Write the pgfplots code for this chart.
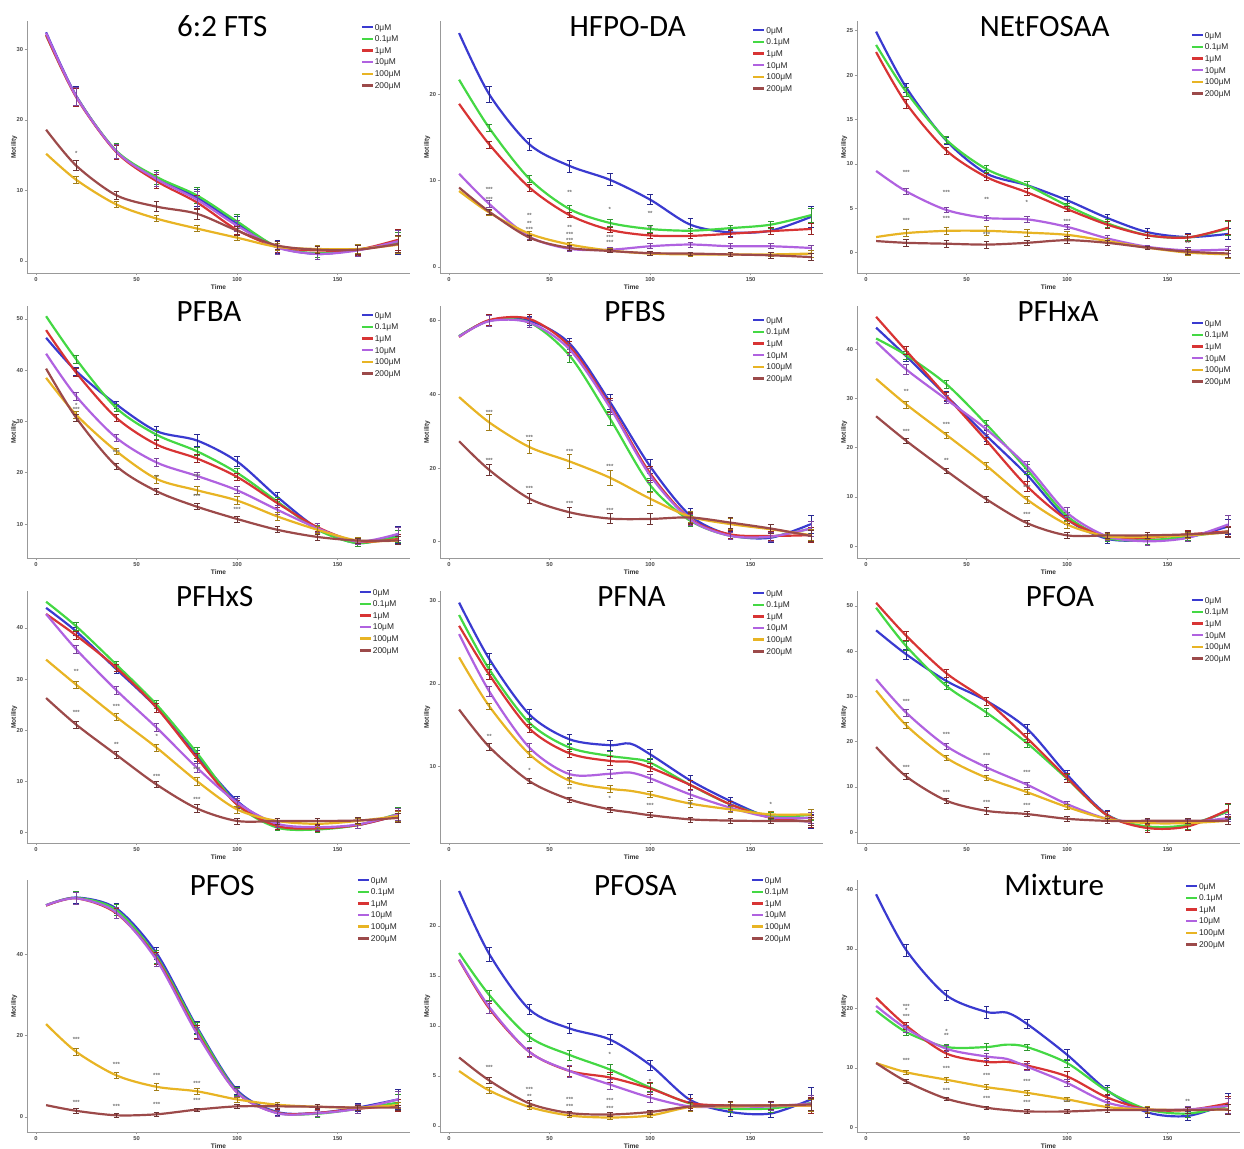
\documentclass[border=0pt]{standalone}
\usepackage{pgfplots}
\pgfplotsset{compat=1.18}
\usepackage{pgfplotstable}
\usepackage{fontspec}
\setmainfont{Liberation Sans}
\newfontfamily\titlefont{Carlito}
\definecolor{c0}{HTML}{3A3AD0}
\definecolor{c1}{HTML}{44D844}
\definecolor{c2}{HTML}{D83434}
\definecolor{c3}{HTML}{B062E0}
\definecolor{c4}{HTML}{E8B424}
\definecolor{c5}{HTML}{9C4A4A}

\pgfplotsset{
  panel/.style={
    scale only axis, width=191.5pt, height=126pt,
    axis x line*=bottom, axis y line*=left,
    axis line style={black!40, line width=0.45pt},
    xmin=-4.5, xmax=186, xtick={0,50,100,150},
    tick align=outside, major tick length=1.2pt,
    every tick/.style={black!40, line width=0.3pt},
    tick label style={font=\fontsize{2.9}{3}\selectfont\bfseries, text=black!70, inner sep=0.6pt},
    /pgf/number format/assume math mode=true,
    xlabel={Time}, ylabel={Motility}, ylabel shift=-2pt,
    label style={font=\fontsize{3.3}{3.6}\selectfont\bfseries, text=black!80, inner sep=0.8pt},
    legend style={draw=none, fill=none, font=\fontsize{4.2}{4.6}\selectfont, text=black!85,
      cells={anchor=west}, row sep=2.1pt, inner sep=0pt,
      nodes={inner sep=0.4pt, text depth=0pt},
      /tikz/every even column/.append style={column sep=2pt}},
    legend image code/.code={\draw[#1, line width=1.2pt] (0pt,0pt) -- (5.5pt,0pt);},
    clip=false,
  },
  errskip/.style={skip coords between index={0}{1}},
}
\tikzset{
  ttl/.style={font=\titlefont\fontsize{15.5}{15.5}\selectfont, anchor=base, inner sep=0pt, yshift=-7.8pt},
  sig/.style={font=\fontsize{3}{3}\selectfont\bfseries, text=black!55, inner sep=0pt},
}
\newcommand{\st}[3]{\node[sig] at (axis cs:#1,#2) {#3};}
\newcommand{\ser}[4]{%
  \addplot[#2, line width=1.1pt, smooth, tension=0.5] table[x=t,y=#3]{#1};
  \addplot[forget plot, only marks, mark=*, mark size=0pt, mark options={draw=none, fill=none}, errskip,
     error bars/.cd, y dir=both, y explicit,
     error bar style={line width=0.35pt, draw=#2!70!black},
     error mark options={rotate=90, mark size=1.4pt, line width=0.35pt, draw=#2!70!black}]
     table[x=t,y=#3,y error=#4]{#1};
}
\newcommand{\panel}[7]{%
\begin{axis}[panel, at={(#1)}, anchor=south west, #4, legend style={at={(rel axis cs:#5)}, anchor=north west}]
\ser{#6}{c0}{a}{ea}\ser{#6}{c1}{b}{eb}\ser{#6}{c2}{c}{ec}\ser{#6}{c3}{d}{ed}\ser{#6}{c4}{e}{ee}\ser{#6}{c5}{f}{ef}
\legend{0μM,0.1μM,1μM,10μM,100μM,200μM}
\node[ttl] at (rel axis cs:#3,1) {#2};
#7
\end{axis}}

% 6:2 FTS
\pgfplotstableread{
t a b c d e f ea eb ec ed ee ef
5 32.4 32.0 32.0 32.3 15.2 18.6 0 0 0 0 0 0
20 23.4 23.3 23.2 23.3 11.5 13.5 1.3 1.3 1.3 1.3 0.5 0.7
40 15.5 15.6 15.4 15.5 8.0 9.3 1.0 1.0 1.0 1.0 0.4 0.6
60 11.8 11.9 11.3 11.6 6.0 7.7 1.0 1.0 1.0 1.0 0.4 0.7
80 9.0 9.3 8.3 8.7 4.6 6.7 1.2 1.2 1.0 1.2 0.4 0.8
100 5.3 5.6 4.4 5.0 3.3 4.3 1.0 1.0 0.6 0.8 0.4 0.6
120 2.0 2.0 2.0 1.9 2.0 2.2 0.9 0.8 0.8 0.9 0.5 0.6
140 1.0 1.1 1.5 1.0 1.7 1.6 0.7 0.6 0.6 0.8 0.5 0.5
160 1.6 1.6 1.6 1.5 1.7 1.6 0.8 0.7 0.8 0.8 0.6 0.6
180 2.5 2.6 3.0 2.8 2.3 2.4 1.5 1.5 1.5 1.6 1.2 1.2
}\tA
% HFPO-DA
\pgfplotstableread{
t a b c d e f ea eb ec ed ee ef
5 27.1 21.7 18.9 10.8 8.8 9.2 0 0 0 0 0 0
20 20.0 16.1 14.2 7.3 6.3 6.4 0.9 0.4 0.4 0.4 0.3 0.3
40 14.2 10.2 9.2 3.5 3.85 3.4 0.7 0.4 0.4 0.3 0.3 0.3
60 11.7 6.7 6.0 2.1 2.6 2.2 0.7 0.4 0.3 0.3 0.3 0.3
80 10.1 5.1 4.3 2.0 1.9 1.85 0.7 0.4 0.3 0.3 0.2 0.2
100 7.8 4.4 3.65 2.4 1.55 1.6 0.6 0.4 0.3 0.3 0.2 0.2
120 4.9 4.2 3.6 2.6 1.45 1.55 0.7 0.3 0.3 0.3 0.2 0.2
140 4.0 4.5 3.85 2.4 1.45 1.45 0.4 0.3 0.4 0.3 0.2 0.2
160 4.2 4.9 4.15 2.4 1.45 1.35 0.4 0.4 0.4 0.3 0.2 0.3
180 5.8 6.0 4.4 2.2 1.55 1.15 1.2 0.8 0.6 0.3 0.4 0.4
}\tB
% NEtFOSAA
\pgfplotstableread{
t a b c d e f ea eb ec ed ee ef
5 24.9 23.4 22.6 9.2 1.75 1.3 0 0 0 0 0 0
20 18.6 18.1 16.8 6.9 2.2 1.1 0.5 0.5 0.5 0.3 0.4 0.4
40 12.6 12.7 11.5 4.8 2.45 1.0 0.4 0.4 0.4 0.3 0.4 0.4
60 8.9 9.4 8.5 3.9 2.45 0.9 0.4 0.4 0.4 0.3 0.5 0.4
80 7.6 7.6 6.8 3.75 2.25 1.1 0.4 0.4 0.4 0.3 0.4 0.3
100 5.9 5.3 4.9 2.9 2.0 1.4 0.4 0.3 0.3 0.3 0.4 0.4
120 3.9 3.3 3.15 1.6 1.3 1.1 0.4 0.4 0.4 0.3 0.3 0.3
140 2.3 1.95 1.95 0.65 0.55 0.55 0.4 0.3 0.3 0.2 0.2 0.2
160 1.75 1.7 1.7 0.25 0.0 0.1 0.4 0.3 0.4 0.3 0.3 0.3
180 2.1 2.7 2.8 0.35 -0.2 -0.1 0.6 0.8 0.8 0.4 0.5 0.4
}\tC
% PFBA
\pgfplotstableread{
t a b c d e f ea eb ec ed ee ef
5 46.3 50.5 47.8 43.2 38.5 40.3 0 0 0 0 0 0
20 39.8 42.1 39.5 34.9 31.3 30.7 0.8 0.8 0.8 0.8 0.7 0.7
40 33.3 32.6 30.7 26.8 24.2 21.3 0.7 0.7 0.7 0.7 0.6 0.6
60 28.1 27.4 25.5 22.0 18.8 16.4 0.9 0.8 0.8 0.8 0.8 0.6
80 26.3 24.2 22.8 19.4 16.6 13.4 1.1 0.8 0.8 0.7 0.8 0.6
100 22.2 20.0 19.2 16.6 14.6 11.0 1.0 0.8 0.7 0.7 0.8 0.6
120 15.3 14.4 14.1 12.8 11.5 8.9 0.9 0.8 0.8 0.8 0.7 0.6
140 9.2 8.9 9.4 9.2 8.9 7.5 1.0 0.8 0.8 0.9 0.7 0.6
160 6.3 6.3 6.6 6.6 6.8 6.8 0.7 0.6 0.6 0.6 0.6 0.5
180 7.9 7.6 7.1 8.1 6.8 6.8 1.7 1.2 1.0 1.2 0.8 0.8
}\tD
% PFBS
\pgfplotstableread{
t a b c d e f ea eb ec ed ee ef
5 55.8 55.8 55.6 55.7 39.3 27.3 0 0 0 0 0 0
20 60.0 60.0 60.2 59.9 32.4 19.5 1.5 1.5 1.5 1.5 2.2 1.6
40 60.0 59.5 60.5 59.5 25.7 11.7 1.3 1.3 1.3 1.3 1.8 1.4
60 53.8 50.5 53.0 52.2 21.8 8.0 1.5 1.8 1.5 1.5 1.8 1.4
80 38.0 33.5 37.0 36.5 17.4 6.3 2.0 2.0 2.0 2.0 2.0 1.3
100 20.5 15.4 18.6 18.0 11.7 6.2 1.8 1.8 1.8 1.8 1.8 1.4
120 7.1 5.7 6.2 6.0 6.8 6.6 2.0 1.5 1.5 1.5 1.5 1.5
140 1.8 1.6 2.0 1.6 4.8 5.2 1.0 1.0 1.0 1.0 1.5 1.5
160 1.1 1.4 1.6 1.4 3.4 3.6 1.2 1.2 1.2 1.2 1.2 1.2
180 4.8 3.6 1.8 3.6 1.8 1.6 2.5 2.0 2.0 2.0 1.5 1.5
}\tE
% PFHxA
\pgfplotstableread{
t a b c d e f ea eb ec ed ee ef
5 44.4 42.2 46.6 41.5 34.0 26.4 0 0 0 0 0 0
20 38.6 38.8 39.7 35.9 28.8 21.4 1.0 0.8 0.8 1.0 0.7 0.6
40 30.5 32.9 30.5 29.8 22.6 15.3 1.0 0.8 0.8 0.8 0.6 0.6
60 22.4 24.7 21.4 23.7 16.3 9.5 1.2 0.9 0.8 0.9 0.7 0.6
80 14.5 15.6 12.2 16.3 9.5 4.7 1.3 1.0 1.0 1.0 0.7 0.6
100 5.5 6.1 5.4 6.8 4.4 2.2 1.0 0.8 0.8 1.0 0.7 0.6
120 1.5 1.7 1.9 2.0 2.0 2.2 0.9 0.8 0.8 0.8 0.6 0.6
140 1.2 1.2 1.7 1.0 1.9 2.2 0.9 0.8 0.8 0.8 0.6 0.6
160 1.8 2.0 2.4 1.7 2.2 2.4 0.9 0.8 0.8 0.8 0.6 0.6
180 4.0 3.0 3.0 4.4 2.8 2.8 1.5 1.0 1.0 1.8 1.0 1.0
}\tF
% PFHxS
\pgfplotstableread{
t a b c d e f ea eb ec ed ee ef
5 43.9 45.1 42.7 42.7 33.8 26.3 0 0 0 0 0 0
20 39.3 40.3 38.5 35.8 28.9 21.1 0.8 0.8 0.8 0.8 0.7 0.7
40 31.9 32.8 32.2 27.8 22.6 15.2 0.7 0.7 0.7 0.7 0.7 0.6
60 24.4 25.0 24.4 20.5 16.6 9.4 0.8 0.8 0.8 0.8 0.7 0.6
80 15.0 15.6 14.6 12.7 10.1 4.75 1.0 1.0 1.0 0.9 0.8 0.7
100 6.2 5.5 5.5 5.9 4.55 2.3 1.0 0.8 0.8 0.9 0.7 0.6
120 1.3 1.0 1.3 1.75 2.3 2.3 0.7 0.6 0.6 0.7 0.6 0.6
140 0.85 0.65 0.85 1.1 1.75 2.3 0.6 0.6 0.6 0.6 0.6 0.6
160 1.5 1.5 1.5 1.6 2.3 2.4 0.7 0.7 0.7 0.7 0.6 0.6
180 3.4 3.7 3.4 3.6 3.25 2.9 1.3 1.2 1.0 1.1 1.0 0.8
}\tG
% PFNA
\pgfplotstableread{
t a b c d e f ea eb ec ed ee ef
5 29.8 28.3 27.0 26.0 23.2 16.9 0 0 0 0 0 0
20 23.0 21.75 21.1 19.1 17.3 12.4 0.7 0.6 0.6 0.6 0.4 0.4
40 16.3 15.3 14.6 12.3 11.5 8.25 0.6 0.5 0.5 0.5 0.4 0.3
60 13.3 12.3 11.6 9.1 8.3 6.05 0.6 0.5 0.5 0.5 0.4 0.3
80 12.6 11.3 10.7 9.15 7.35 4.85 0.6 0.5 0.5 0.5 0.4 0.3
90 12.8 11.0 10.6 9.3 7.1 4.5 0 0 0 0 0 0
100 11.5 10.5 9.9 8.6 6.65 4.15 0.6 0.5 0.5 0.5 0.4 0.3
120 8.35 7.8 7.8 6.65 5.55 3.65 0.6 0.5 0.5 0.5 0.4 0.3
140 5.85 5.45 5.45 5.05 4.85 3.5 0.5 0.4 0.4 0.4 0.4 0.3
160 3.85 4.05 3.85 3.9 4.25 3.45 0.4 0.4 0.4 0.4 0.4 0.3
180 3.4 4.2 3.4 3.85 4.25 3.45 0.8 0.7 0.7 0.7 0.6 0.5
}\tH
% PFOA
\pgfplotstableread{
t a b c d e f ea eb ec ed ee ef
5 44.6 49.6 50.7 33.8 31.3 18.8 0 0 0 0 0 0
20 39.3 41.1 43.4 26.4 23.6 12.3 1.0 1.0 1.0 0.7 0.6 0.7
40 33.4 32.3 35.1 19.0 16.4 6.95 0.9 0.8 0.9 0.6 0.6 0.6
60 29.0 26.4 29.0 14.3 12.0 4.7 0.9 0.9 0.9 0.6 0.6 0.7
80 22.9 19.7 20.8 10.5 8.85 4.0 1.0 0.9 1.0 0.6 0.6 0.6
100 12.7 11.8 12.0 6.2 5.55 2.95 1.0 0.9 1.0 0.6 0.6 0.6
120 3.85 3.7 3.7 2.95 2.9 2.5 1.0 0.9 0.9 0.6 0.6 0.6
140 1.05 1.25 0.9 2.2 2.0 2.5 1.0 0.9 0.9 0.6 0.6 0.6
160 1.5 1.6 1.25 2.2 2.0 2.5 1.0 0.9 0.9 0.6 0.6 0.6
180 4.6 4.6 4.95 3.1 2.5 2.5 1.8 1.5 1.5 0.8 0.8 0.8
}\tI
% PFOS
\pgfplotstableread{
t a b c d e f ea eb ec ed ee ef
5 52.0 52.0 51.9 52.0 22.8 2.9 0 0 0 0 0 0
20 53.9 53.8 53.7 53.7 16.0 1.5 1.5 1.5 1.5 1.5 0.8 0.5
40 51.2 50.8 50.0 50.2 10.2 0.4 1.3 1.3 1.3 1.3 0.8 0.4
60 40.2 39.3 38.9 38.5 7.4 0.65 1.5 1.5 1.5 1.5 0.8 0.4
80 22.1 21.7 20.9 20.5 6.3 1.8 1.5 1.5 1.5 1.5 0.8 0.4
100 6.6 6.2 6.0 6.0 4.3 2.6 1.0 1.0 1.0 1.0 0.6 0.5
120 1.2 1.0 1.0 0.9 3.0 2.6 0.8 0.8 0.8 0.8 0.5 0.5
140 1.0 0.8 1.0 0.9 2.5 2.5 0.8 0.8 0.8 0.8 0.5 0.5
160 2.3 2.0 2.0 2.0 2.3 2.3 1.0 1.0 1.0 1.0 0.6 0.6
180 4.3 3.5 2.8 4.3 2.9 2.3 2.5 2.0 1.5 2.0 0.8 0.6
}\tJ
% PFOSA
\pgfplotstableread{
t a b c d e f ea eb ec ed ee ef
5 23.5 17.3 16.6 16.65 5.5 6.85 0 0 0 0 0 0
20 17.2 13.1 11.75 11.9 3.55 4.55 0.7 0.5 0.5 0.6 0.3 0.3
40 11.65 8.9 7.4 7.4 1.9 2.25 0.5 0.4 0.4 0.5 0.2 0.3
60 9.75 7.1 5.5 5.5 1.05 1.3 0.5 0.5 0.5 0.6 0.2 0.2
80 8.65 5.65 4.85 4.15 0.85 1.15 0.5 0.5 0.5 0.5 0.2 0.2
100 6.1 3.85 3.75 2.85 1.05 1.4 0.5 0.4 0.6 0.5 0.2 0.2
120 2.6 2.25 2.3 1.95 1.9 1.95 0.6 0.5 0.5 0.5 0.4 0.4
140 1.4 1.75 2.05 1.95 1.95 2.05 0.4 0.4 0.4 0.4 0.4 0.4
160 1.25 1.75 2.05 1.95 2.05 2.05 0.4 0.4 0.4 0.4 0.4 0.4
180 2.65 2.3 2.05 2.25 2.05 2.15 1.2 0.8 0.8 0.8 0.6 0.6
}\tK
% Mixture
\pgfplotstableread{
t a b c d e f ea eb ec ed ee ef
5 39.2 19.6 21.8 20.4 10.8 10.8 0 0 0 0 0 0
20 29.8 16.0 17.1 16.6 9.25 7.7 1.0 0.6 0.6 0.6 0.4 0.3
40 22.2 13.5 12.4 13.2 8.0 4.8 0.8 0.5 0.6 0.5 0.4 0.3
60 19.4 13.5 11.0 11.9 6.75 3.3 1.0 0.6 0.6 0.6 0.4 0.3
70 19.3 13.9 11.0 11.5 6.3 2.9 0 0 0 0 0 0
80 17.4 13.5 10.4 10.2 5.8 2.65 0.8 0.5 0.7 0.6 0.4 0.3
100 12.2 10.8 8.55 7.45 4.7 2.65 0.9 0.7 0.8 0.6 0.3 0.3
120 6.2 6.1 5.0 4.15 3.4 2.9 0.8 0.6 0.6 0.5 0.4 0.4
140 2.5 3.0 3.0 3.0 3.0 2.9 0.8 0.6 0.6 0.6 0.5 0.5
160 1.9 2.3 2.9 3.0 2.9 2.9 0.8 0.6 0.6 0.6 0.5 0.5
180 4.0 3.6 4.0 3.6 3.0 3.0 1.7 1.2 1.2 1.2 0.8 0.8
}\tL

\begin{document}
\begin{tikzpicture}
\useasboundingbox (0,0) rectangle (622pt,574pt);
% Row 1
\panel{13.5pt,437.5pt}{6:2 FTS}{0.51}{ymin=-1.7, ymax=34, ytick={0,10,20,30}}{0.87,0.992}{\tA}{\st{20}{15.3}{*}}
\panel{220pt,437.5pt}{HFPO-DA}{0.49}{ymin=-0.7, ymax=28.5, ytick={0,10,20}}{0.814,0.98}{\tB}{%
\st{20}{9.0}{***}\st{20}{7.8}{***}\st{40}{6.0}{**}\st{40}{5.1}{**}\st{40}{4.4}{***}%
\st{60}{8.6}{**}\st{60}{4.6}{**}\st{60}{3.8}{***}\st{60}{3.1}{***}%
\st{80}{6.7}{*}\st{80}{3.4}{***}\st{80}{2.8}{***}\st{100}{6.2}{**}\st{100}{4.5}{**}}
\panel{428.5pt,437.5pt}{NEtFOSAA}{0.49}{ymin=-2.3, ymax=26.1, ytick={0,5,10,15,20,25}}{0.87,0.96}{\tC}{%
\st{20}{9.0}{***}\st{40}{6.8}{***}\st{60}{6.0}{**}\st{80}{5.6}{*}%
\st{20}{3.6}{***}\st{40}{3.8}{***}\st{100}{3.5}{***}\st{60}{2.0}{***}\st{160}{1.0}{**}}
% Row 2
\panel{13.5pt,295pt}{PFBA}{0.475}{ymin=3.4, ymax=52.5, ytick={10,20,30,40,50}}{0.87,0.98}{\tD}{%
\st{20}{33.2}{*}\st{20}{32.4}{***}\st{40}{24.0}{***}\st{60}{19.0}{**}\st{80}{19.2}{***}\st{80}{15.3}{***}\st{100}{12.8}{***}}
\panel{220pt,295pt}{PFBS}{0.509}{ymin=-4.4, ymax=64, ytick={0,20,40,60}}{0.814,0.96}{\tE}{%
\st{20}{35.2}{***}\st{40}{28.4}{***}\st{60}{24.6}{***}\st{80}{20.4}{***}%
\st{20}{22.0}{***}\st{40}{14.4}{***}\st{60}{10.4}{***}\st{80}{8.6}{***}}
\panel{428.5pt,295pt}{PFHxA}{0.525}{ymin=-2.4, ymax=48.8, ytick={0,10,20,30,40}}{0.87,0.948}{\tF}{%
\st{20}{31.5}{**}\st{40}{24.8}{***}\st{20}{23.4}{***}\st{40}{17.4}{**}\st{80}{12.0}{***}\st{80}{6.4}{***}}
% Row 3
\panel{13.5pt,152.5pt}{PFHxS}{0.49}{ymin=-2.0, ymax=47.2, ytick={0,10,20,30,40}}{0.865,1.012}{\tG}{%
\st{20}{31.4}{**}\st{40}{24.6}{***}\st{20}{23.4}{***}\st{40}{17.2}{**}\st{60}{18.8}{*}\st{60}{11.0}{***}%
\st{80}{12.4}{***}\st{80}{6.6}{***}}
\pgfplotsset{errskip/.style={skip coords between index={0}{1}, skip coords between index={5}{6}}}
\panel{220pt,152.5pt}{PFNA}{0.50}{ymin=0.8, ymax=31.2, ytick={10,20,30}}{0.814,1.008}{\tH}{%
\st{20}{13.7}{**}\st{40}{9.6}{*}\st{60}{7.3}{**}\st{80}{6.2}{*}\st{100}{5.3}{***}\st{120}{5.5}{**}\st{160}{5.4}{*}}
\pgfplotsset{errskip/.style={skip coords between index={0}{1}}}
\panel{428.5pt,152.5pt}{PFOA}{0.53}{ymin=-2.4, ymax=53.3, ytick={0,10,20,30,40,50}}{0.87,0.98}{\tI}{%
\st{20}{29.0}{***}\st{40}{21.5}{***}\st{60}{17.0}{***}\st{80}{13.2}{***}%
\st{20}{14.3}{***}\st{40}{8.8}{***}\st{60}{6.5}{***}\st{80}{5.8}{***}}
% Row 4
\panel{13.5pt,8pt}{PFOS}{0.51}{ymin=-3.7, ymax=58.2, ytick={0,20,40}}{0.86,1.016}{\tJ}{%
\st{20}{19.0}{***}\st{40}{12.8}{***}\st{60}{10.2}{***}\st{80}{8.3}{***}%
\st{20}{3.6}{***}\st{40}{2.6}{***}\st{60}{3.0}{***}\st{80}{4.0}{***}}
\panel{220pt,8pt}{PFOSA}{0.51}{ymin=-0.6, ymax=24.6, ytick={0,5,10,15,20}}{0.81,1.016}{\tK}{%
\st{20}{5.9}{***}\st{40}{3.7}{***}\st{40}{3.0}{**}\st{60}{2.7}{***}\st{60}{2.0}{***}%
\st{80}{2.6}{***}\st{80}{1.8}{***}\st{80}{7.2}{*}\st{100}{4.5}{*}}
\pgfplotsset{errskip/.style={skip coords between index={0}{1}, skip coords between index={4}{5}}}
\panel{428.5pt,8pt}{Mixture}{0.515}{ymin=-0.8, ymax=41.6, ytick={0,10,20,30,40}}{0.855,0.992}{\tL}{%
\st{20}{20.3}{***}\st{20}{19.6}{*}\st{20}{18.7}{***}\st{40}{16.2}{*}\st{40}{15.4}{**}%
\st{20}{11.2}{***}\st{40}{9.9}{***}\st{60}{8.8}{***}\st{80}{7.7}{***}%
\st{40}{6.2}{***}\st{60}{4.8}{***}\st{80}{4.2}{***}\st{100}{4.2}{***}\st{160}{4.3}{**}}
\end{tikzpicture}
\end{document}
